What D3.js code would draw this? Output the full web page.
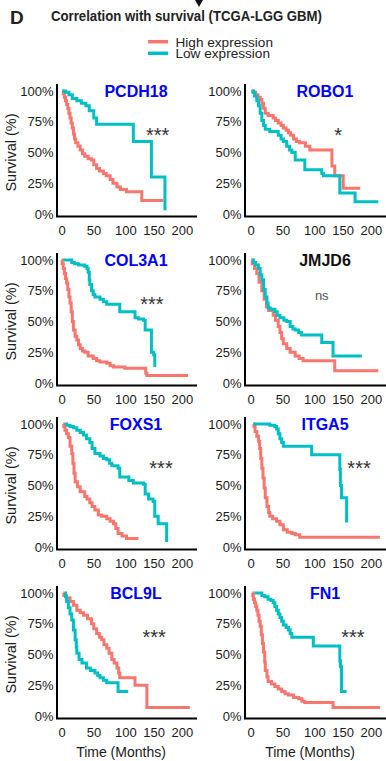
<!DOCTYPE html>
<html>
<head>
<meta charset="utf-8">
<script src="https://cdn.jsdelivr.net/npm/d3@7"></script>
<style>
  html, body { margin: 0; padding: 0; background: #fff; }
  svg { display: block; font-family: "Liberation Sans", Arial, sans-serif; }
</style>
</head>
<body>
<svg id="chart" width="386" height="761"></svg>
<script>
// gene panels, read left-to-right, top-to-bottom
const genes = ["PCDH18", "ROBO1", "COL3A1", "JMJD6", "FOXS1", "ITGA5", "BCL9L", "FN1"];
const sigLabels = ["***", "*", "***", "ns", "***", "***", "***", "***"];
const sigMonths = [171, 156, 161, 127, 177, 193, 165, 182];
const titleColors = ["blue", "blue", "blue", "#111", "blue", "blue", "blue", "blue"];

const xTicks = [0, 50, 100, 150, 200];
const yTicks = [0, 25, 50, 75, 100];

const seriesNames = ["High expression", "Low expression"];
const seriesColors = ["#F8766D", "#00BFC4"];

// Kaplan-Meier steps: [months, survival %]
const pcdh18High = [[3,100],[4,98],[6,95],[8,92],[10,89],[12,86],[14,82],[16,78],[18,74],[20,70],[22,65],[24,61],[26,58],[30,55],[34,52],[38,49],[42,47],[48,45],[54,44],[58,40],[63,37],[68,35],[75,33],[80,31],[87,28],[92,25],[99,22],[105,20],[116,18],[143,11],[181,11]];
const pcdh18Low = [[2,100],[8,99],[14,97],[20,94],[28,92],[36,90],[44,88],[50,84],[58,78],[63,73],[128,59],[160,30],[184,3]];

const robo1High = [[2,100],[5,99],[10,97],[14,95],[18,93],[21,90],[24,86],[27,82],[32,80],[41,78],[45,76],[50,74],[55,72],[59,70],[64,68],[68,66],[72,64],[77,61],[82,59],[88,58],[98,55],[106,52],[145,39],[150,31],[165,21],[195,21]];
const robo1Low = [[4,100],[6,99],[8,96],[12,92],[15,88],[18,82],[21,76],[24,72],[27,69],[35,67],[50,64],[55,61],[59,59],[65,55],[70,52],[74,50],[80,44],[97,36],[127,33],[130,31],[159,17],[186,10],[227,10]];

const col3a1High = [[1,100],[2,97],[4,93],[6,89],[8,85],[10,81],[12,76],[14,70],[16,65],[18,58],[20,50],[22,43],[25,38],[28,35],[31,31],[34,28],[38,26],[42,25],[48,22],[57,20],[63,18],[69,17],[81,16],[87,14],[93,13],[113,12],[150,8],[152,6],[225,6]];
const col3a1Low = [[4,100],[16,100],[19,98],[24,97],[31,96],[42,95],[46,93],[48,90],[50,84],[51,80],[54,75],[57,72],[60,70],[69,68],[75,66],[81,64],[104,58],[131,53],[137,52],[146,51],[149,43],[160,25],[164,23],[166,13]];

const jmjd6High = [[2,100],[4,97],[8,93],[12,89],[16,82],[21,75],[25,68],[29,62],[33,59],[41,55],[45,51],[50,46],[53,41],[56,36],[59,32],[65,28],[71,25],[80,22],[87,20],[94,18],[150,10],[227,10]];
const jmjd6Low = [[4,100],[6,98],[10,96],[15,93],[18,88],[21,84],[24,76],[27,70],[30,65],[32,61],[36,60],[44,58],[48,55],[53,53],[60,51],[65,50],[71,46],[76,44],[80,43],[86,41],[91,39],[127,33],[147,22],[198,22]];

const foxs1High = [[4,100],[5,98],[7,95],[10,92],[13,89],[16,82],[19,76],[21,68],[23,60],[25,53],[29,49],[34,45],[42,41],[46,39],[51,36],[55,33],[60,30],[66,26],[72,25],[81,23],[87,21],[93,19],[97,15],[101,11],[108,9],[116,7],[137,7]];
const foxs1Low = [[7,100],[10,99],[16,98],[22,97],[28,95],[34,93],[40,91],[45,88],[51,85],[55,80],[60,76],[69,74],[75,72],[81,71],[86,68],[90,66],[101,64],[104,57],[120,54],[128,52],[146,51],[149,43],[155,39],[163,37],[166,25],[172,19],[187,4]];

const itga5High = [[6,100],[7,98],[9,94],[12,90],[15,86],[17,80],[19,72],[21,64],[23,56],[25,48],[27,40],[30,33],[33,28],[35,25],[40,23],[47,21],[53,18],[59,14],[66,12],[74,11],[80,10],[88,8],[230,8]];
const itga5Low = [[6,100],[27,100],[35,99],[44,98],[47,96],[50,92],[53,88],[56,85],[59,82],[109,75],[159,63],[160,50],[162,40],[171,20]];

const bcl9lHigh = [[4,100],[5,98],[10,96],[16,93],[22,90],[28,86],[34,84],[40,82],[47,79],[54,75],[58,71],[63,67],[68,64],[72,62],[76,58],[81,55],[85,51],[90,46],[94,43],[99,39],[102,35],[104,31],[131,25],[152,7],[228,7]];
const bcl9lLow = [[7,100],[8,97],[10,93],[13,88],[16,83],[19,78],[22,70],[25,62],[27,56],[28,51],[32,46],[37,43],[45,39],[52,37],[60,35],[65,33],[69,31],[75,29],[81,27],[101,20],[119,20]];

const fn1High = [[4,100],[5,98],[6,95],[8,92],[10,89],[12,86],[14,82],[16,77],[18,73],[20,66],[22,59],[24,52],[26,44],[27,37],[30,32],[32,28],[38,26],[44,24],[50,22],[56,20],[62,18],[68,17],[77,15],[86,14],[92,12],[97,11],[147,7],[230,7]];
const fn1Low = [[8,100],[18,100],[21,98],[26,97],[32,95],[37,94],[41,92],[44,89],[47,86],[50,83],[53,80],[56,77],[59,74],[64,72],[68,70],[71,67],[74,64],[112,57],[159,45],[160,40],[162,20],[171,20]];

const highSeries = [pcdh18High, robo1High, col3a1High, jmjd6High, foxs1High, itga5High, bcl9lHigh, fn1High];
const lowSeries = [pcdh18Low, robo1Low, col3a1Low, jmjd6Low, foxs1Low, itga5Low, bcl9lLow, fn1Low];

// layout
const cols = [{axisX: 57, x0: 61, xEnd: 197}, {axisX: 245, x0: 250, xEnd: 386}];
const rowTops = [91, 260, 424, 593];
const plotH = 123;
const plotW = 113;

const svg = d3.select("#chart");

// header
svg.append("text")
    .attr("x", 10).attr("y", 24)
    .attr("font-size", 19).attr("font-weight", "bold")
    .attr("fill", "#222")
    .text("D");

svg.append("text")
    .attr("x", 51).attr("y", 21)
    .attr("font-size", 14).attr("font-weight", "bold")
    .attr("fill", "#222")
    .attr("textLength", 271).attr("lengthAdjust", "spacingAndGlyphs")
    .text("Correlation with survival (TCGA-LGG GBM)");

svg.append("path")
    .attr("d", "M195,0 L203,0 L199,7 Z")
    .attr("fill", "#111");

// legend
const legend = svg.append("g").attr("transform", "translate(148,0)");
seriesNames.forEach((name, i) => {
    legend.append("line")
        .attr("x1", 0).attr("x2", 20)
        .attr("y1", 41.7 + i * 11.6).attr("y2", 41.7 + i * 11.6)
        .attr("stroke", seriesColors[i]).attr("stroke-width", 3.5);
    legend.append("text")
        .attr("x", 27.5).attr("y", 46.5 + i * 11.2)
        .attr("font-size", 13.6).attr("fill", "#222")
        .text(name);
});

const line = d3.line().curve(d3.curveStepAfter);

genes.forEach((gene, i) => {
    const col = cols[i % 2];
    const row = Math.floor(i / 2);
    const top = rowTops[row];
    const bottom = top + plotH;

    const x = d3.scaleLinear().domain([0, 200]).range([col.x0, col.x0 + plotW]);
    const y = d3.scaleLinear().domain([0, 100]).range([bottom, top]);

    const g = svg.append("g");

    // y axis labels
    const yAxis = g.append("g")
        .attr("transform", `translate(${col.axisX},0)`)
        .call(d3.axisLeft(y).tickValues(yTicks).tickFormat(d => d + "%").tickSize(0).tickPadding(3.5));
    yAxis.select(".domain").remove();
    yAxis.selectAll("text")
        .attr("font-size", 13).attr("fill", "#1a1a1a")
        .attr("font-family", '"Liberation Sans", Arial, sans-serif');

    // x axis labels
    const xAxis = g.append("g")
        .attr("transform", `translate(0,${bottom + 2.5})`)
        .call(d3.axisBottom(x).tickValues(xTicks).tickSize(0).tickPadding(9));
    xAxis.select(".domain").remove();
    xAxis.selectAll("text")
        .attr("text-anchor", "start").attr("x", -3)
        .attr("font-size", 13).attr("fill", "#1a1a1a")
        .attr("font-family", '"Liberation Sans", Arial, sans-serif');

    // survival curves
    [highSeries[i], lowSeries[i]].forEach((data, k) => {
        g.append("path")
            .attr("d", line(data.map(d => [x(d[0]), y(d[1])])))
            .attr("fill", "none")
            .attr("stroke", seriesColors[k])
            .attr("stroke-width", 3);
    });

    // axis frame
    g.append("path")
        .attr("d", `M${col.axisX},${top - 7} V${bottom + 2.5} H${col.xEnd}`)
        .attr("fill", "none")
        .attr("stroke", "#000")
        .attr("stroke-width", 2);

    // title
    g.append("text")
        .attr("x", col.x0 + 75).attr("y", top + 6)
        .attr("text-anchor", "middle")
        .attr("font-size", 16).attr("font-weight", "bold")
        .attr("fill", titleColors[i])
        .text(gene);

    // significance
    const isNs = sigLabels[i] === "ns";
    g.append("text")
        .attr("x", x(sigMonths[i]))
        .attr("y", isNs ? y(70) + 3.5 : y(67.5) + 11)
        .attr("text-anchor", "middle")
        .attr("font-size", isNs ? 13 : 20)
        .attr("fill", isNs ? "#555" : "#333")
        .text(sigLabels[i]);

    if (i % 2 === 0) {
        g.append("text")
            .attr("transform", `translate(16,${(top + bottom) / 2}) rotate(-90)`)
            .attr("text-anchor", "middle")
            .attr("font-size", 14.5).attr("fill", "#1a1a1a")
            .text("Survival (%)");
    }
    if (row === rowTops.length - 1) {
        g.append("text")
            .attr("x", col.x0 + 60).attr("y", bottom + 41)
            .attr("text-anchor", "middle")
            .attr("font-size", 14).attr("fill", "#1a1a1a")
            .text("Time (Months)");
    }
});
</script>
</body>
</html>
